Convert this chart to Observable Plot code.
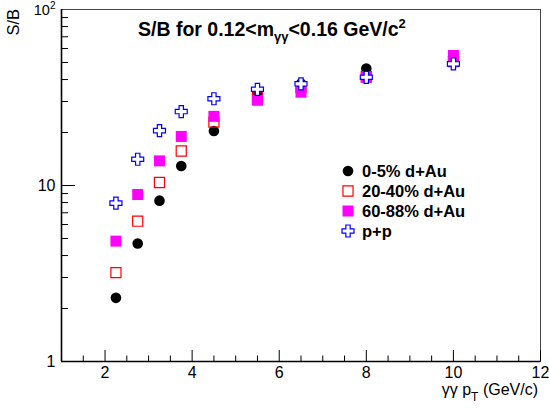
<!DOCTYPE html>
<html><head><meta charset="utf-8">
<script src="https://cdn.jsdelivr.net/npm/d3@7"></script>
<script src="https://cdn.jsdelivr.net/npm/@observablehq/plot@0.6"></script>
<style>
body{margin:0;background:#fff;}
svg{display:block;font-family:"Liberation Sans",Arial,Helvetica,sans-serif;}
</style>
</head><body><div id="chart"></div>
<script>
// ---- data ----
const pt = [2.25, 2.75, 3.25, 3.75, 4.5, 5.5, 6.5, 8, 10];
const sb_0_5   = [2.30, 4.68, 8.2, 12.9, 20.4, 33.3, 38.0, 46.2, 50.7];
const sb_20_40 = [3.2, 6.27, 10.4, 15.7, 22.9, 31.5, 36.0, 41.5, 50.5];
const sb_60_88 = [4.83, 8.89, 13.8, 19.0, 24.7, 30.5, 33.9, 41.2, 54.8];
const sb_pp    = [7.94, 14.1, 20.5, 26.3, 31.1, 35.2, 37.8, 41.2, 49.1];
const seriesNames = ["0-5% d+Au", "20-40% d+Au", "60-88% d+Au", "p+p"];
const xMajorTicks = [2, 4, 6, 8, 10, 12];
const xMinorTicks = [1.5, 2.5, 3, 3.5, 4.5, 5, 5.5, 6.5, 7, 7.5, 8.5, 9, 9.5, 10.5, 11, 11.5];
const yLabelTicks = [1, 10, 100];
const yMajorTicks = [10];
const yMinorTicks = [2, 3, 4, 5, 6, 7, 8, 9, 20, 30, 40, 50, 60, 70, 80, 90];

// ---- layout ----
const W = 549, H = 411, mL = 61, mR = 9, mT = 9, mB = 50;
const plotW = W - mL - mR, plotH = H - mT - mB;

const openCross = {
  draw(ctx, size) {
    const r = Math.sqrt(size / Math.PI), a = r * 0.36;
    ctx.moveTo(-a, -r); ctx.lineTo(a, -r); ctx.lineTo(a, -a); ctx.lineTo(r, -a);
    ctx.lineTo(r, a); ctx.lineTo(a, a); ctx.lineTo(a, r); ctx.lineTo(-a, r);
    ctx.lineTo(-a, a); ctx.lineTo(-r, a); ctx.lineTo(-r, -a); ctx.lineTo(-a, -a);
    ctx.closePath();
  }
};

const styles = [
  {symbol: "circle", r: 5.3, fill: "black", stroke: "none", strokeWidth: 0},
  {symbol: "square", r: 5.7, fill: "none", stroke: "#ff0000", strokeWidth: 1.2},
  {symbol: "square", r: 6.2, fill: "#ff00ff", stroke: "none", strokeWidth: 0},
  {symbol: openCross, r: 6, fill: "white", stroke: "#0000ff", strokeWidth: 1.2}
];
const seriesVals = [sb_0_5, sb_20_40, sb_60_88, sb_pp];

const chart = Plot.plot({
  width: W, height: H,
  marginLeft: mL, marginRight: mR, marginTop: mT, marginBottom: mB,
  style: {fontFamily: '"Liberation Sans",Arial,sans-serif', fontSize: "16px", color: "black", background: "white"},
  x: {domain: [1, 12]},
  y: {type: "log", domain: [1, 100]},
  marks: [
    Plot.frame({stroke: "#444", strokeWidth: 1}),
    Plot.ruleY([1], {stroke: "black", strokeWidth: 1.6}),
    Plot.ruleX([1], {stroke: "black", strokeWidth: 1.6}),
    Plot.tickX(xMajorTicks, {x: d => d, insetTop: plotH - 11, stroke: "black", strokeWidth: 1}),
    Plot.tickX(xMinorTicks, {x: d => d, insetTop: plotH - 5.5, stroke: "black", strokeWidth: 1}),
    Plot.tickY(yMajorTicks, {y: d => d, insetRight: plotW - 14, stroke: "black", strokeWidth: 1}),
    Plot.tickY(yMinorTicks, {y: d => d, insetRight: plotW - 7, stroke: "black", strokeWidth: 1}),
    Plot.axisX(xMajorTicks, {tickSize: 0, tickPadding: 5, label: null, fontSize: 16, tickFormat: d => String(d)}),
    Plot.axisY(yLabelTicks, {tickSize: 0, tickPadding: 6, label: null, fontSize: 16, tickFormat: d => d === 100 ? "10²" : String(d)}),
    ...seriesVals.map((vals, k) => Plot.dot(pt, {x: pt, y: vals, ...styles[k]}))
  ]
});

const svg = d3.select(chart);

// y label "10²" as 10 with superscript
svg.selectAll('g[aria-label="y-axis tick label"] text').each(function() {
  const t = d3.select(this);
  if (t.text() === "10²") {
    t.text(null);
    t.append("tspan").style("font-size", "14.5px").text("10");
    t.append("tspan").style("font-size", "10px").attr("dy", "-0.6em").text("2");
  }
});

function txt(x, y, size, bold, anchor) {
  return svg.append("text").attr("x", x).attr("y", y)
    .style("font-size", size + "px").style("font-weight", bold ? "bold" : "normal")
    .style("text-anchor", anchor).attr("fill", "black");
}

// title
const title = txt(138, 36, 19.5, true, "start");
title.append("tspan").text("S/B for 0.12<m");
title.append("tspan").style("font-size", "13px").attr("dy", 5).text("γγ");
title.append("tspan").attr("dy", -5).text("<0.16 GeV/c");
title.append("tspan").style("font-size", "13px").attr("dy", -8).text("2");

// x label
const xl = txt(538, 395, 16, false, "end");
xl.append("tspan").text("γγ p");
xl.append("tspan").style("font-size", "12px").attr("dy", 6).text("T");
xl.append("tspan").attr("dy", -6).text(" (GeV/c)");

// y label
txt(0, 0, 16.5, false, "end").attr("transform", "translate(19,9) rotate(-90)").text("S/B");

// legend
const sym = d3.symbol();
const lg = svg.append("g");
seriesNames.forEach((name, k) => {
  const y = 171 + k * 20;
  const st = styles[k];
  lg.append("path")
    .attr("transform", `translate(348,${y})`)
    .attr("d", sym.type(st.symbol === "circle" ? d3.symbolCircle : st.symbol === "square" ? d3.symbolSquare : st.symbol).size(st.r * st.r * Math.PI)())
    .attr("fill", st.fill).attr("stroke", st.stroke).attr("stroke-width", st.strokeWidth);
  txt(362, y, 16.5, true, "start").attr("dy", "0.35em").text(name);
});

document.getElementById("chart").appendChild(chart);
</script>
</body></html>
